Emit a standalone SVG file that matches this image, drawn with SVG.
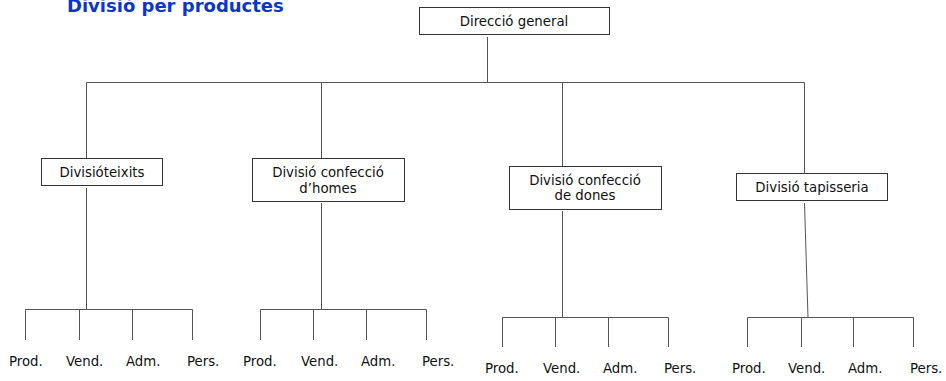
<svg xmlns="http://www.w3.org/2000/svg" width="946" height="381" viewBox="0 0 946 381">
  <style>
    .box { fill: #ffffff; stroke: #333333; stroke-width: 1; }
    .lbl { font-family: "DejaVu Sans", Verdana, sans-serif; font-size: 13.3px; fill: #111111; text-anchor: middle; }
    .leaf { font-family: "DejaVu Sans", Verdana, sans-serif; font-size: 13.3px; fill: #111111; }
    .wire { fill: none; stroke: #555555; stroke-width: 1; }
    .title { font-family: "DejaVu Sans", Verdana, sans-serif; font-size: 18px; font-weight: bold; fill: #0a36cc; }
  </style>

  <rect width="946" height="381" fill="#ffffff"/>

  <text class="title" x="67" y="12">Divisió per productes</text>

  <!-- connectors -->
  <g id="connectors" class="wire">
    <path d="M487.5 37 V82.5"/>
    <path d="M86.5 158 V82.5 H804.5 V173"/>
    <path d="M321.5 82.5 V158"/>
    <path d="M562.5 82.5 V166"/>
    <!-- under Divisióteixits -->
    <path d="M86.5 188 V309.5"/>
    <path d="M25.5 340 V309.5 H192.5 V340 M79.5 309.5 V340 M132.5 309.5 V340"/>
    <!-- under confecció d'homes -->
    <path d="M321.5 203 V309.5"/>
    <path d="M260.5 340 V309.5 H426.5 V340 M313.5 309.5 V340 M366.5 309.5 V340"/>
    <!-- under confecció de dones -->
    <path d="M562.5 211 V317.5"/>
    <path d="M502.5 347 V317.5 H668.5 V347 M555.5 317.5 V347 M608.5 317.5 V347"/>
    <!-- under tapisseria -->
    <path d="M804.5 203 L808 317.5"/>
    <path d="M747.5 347 V317.5 H913.5 V347 M801.5 317.5 V347 M853.5 317.5 V347"/>
  </g>

  <g id="direccio">
    <rect class="box" x="419.5" y="7.5" width="190" height="27"/>
    <text class="lbl" x="514" y="26">Direcció general</text>
  </g>

  <g id="div-teixits">
    <rect class="box" x="41.5" y="158.5" width="121" height="27"/>
    <text class="lbl" x="102" y="177">Divisióteixits</text>
  </g>

  <g id="div-homes">
    <rect class="box" x="252.5" y="158.5" width="152" height="43"/>
    <text class="lbl" x="328" y="177">Divisió confecció</text>
    <text class="lbl" x="328" y="193">d’homes</text>
  </g>

  <g id="div-dones">
    <rect class="box" x="509.5" y="166.5" width="152" height="43"/>
    <text class="lbl" x="585" y="185">Divisió confecció</text>
    <text class="lbl" x="585" y="200">de dones</text>
  </g>

  <g id="div-tapisseria">
    <rect class="box" x="736.5" y="173.5" width="151" height="27"/>
    <text class="lbl" x="812" y="192">Divisió tapisseria</text>
  </g>

  <g id="leaves-teixits">
    <text class="leaf" x="9" y="366">Prod.</text>
    <text class="leaf" x="66" y="366">Vend.</text>
    <text class="leaf" x="126" y="366">Adm.</text>
    <text class="leaf" x="187" y="366">Pers.</text>
  </g>
  <g id="leaves-homes">
    <text class="leaf" x="243" y="366">Prod.</text>
    <text class="leaf" x="301" y="366">Vend.</text>
    <text class="leaf" x="361" y="366">Adm.</text>
    <text class="leaf" x="422" y="366">Pers.</text>
  </g>
  <g id="leaves-dones">
    <text class="leaf" x="485" y="373">Prod.</text>
    <text class="leaf" x="543" y="373">Vend.</text>
    <text class="leaf" x="603" y="373">Adm.</text>
    <text class="leaf" x="664" y="373">Pers.</text>
  </g>
  <g id="leaves-tapisseria">
    <text class="leaf" x="732" y="373">Prod.</text>
    <text class="leaf" x="788" y="373">Vend.</text>
    <text class="leaf" x="848" y="373">Adm.</text>
    <text class="leaf" x="910" y="373">Pers.</text>
  </g>
</svg>
